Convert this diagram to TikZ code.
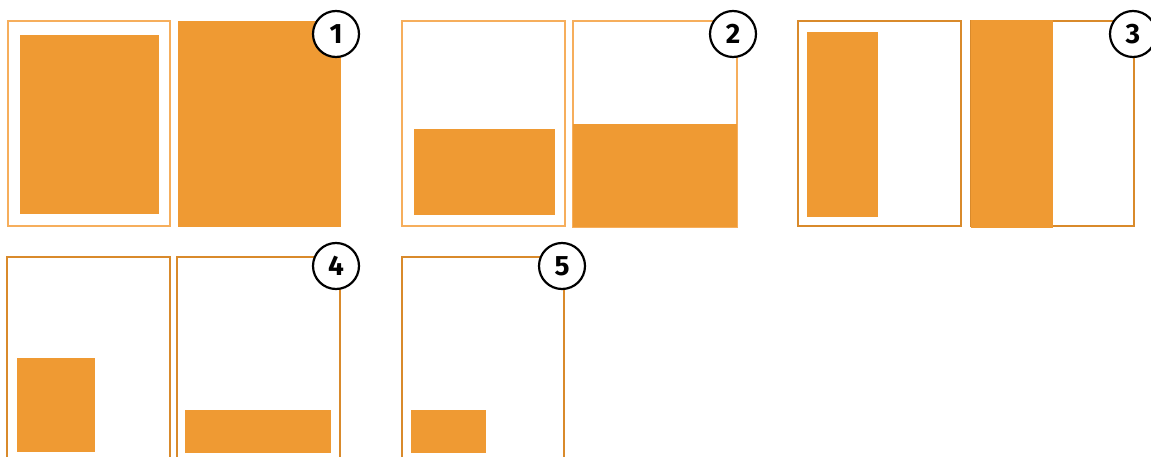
\documentclass[tikz,border=0pt]{standalone}
\usepackage{fontspec}
\setmainfont{Fira Sans}
\definecolor{ofill}{HTML}{EF9A33}
\definecolor{olight}{HTML}{F6AE5C}
\definecolor{odark}{HTML}{D98A2B}
\begin{document}
\begin{tikzpicture}[x=1pt,y=-1pt,
  fillbox/.style={fill=ofill,draw=none},
  lightframe/.style={draw=olight,line width=1.1pt},
  darkframe/.style={draw=odark,line width=1.1pt},
  badge/.style={circle,draw=black,fill=white,line width=2.2pt,minimum size=46pt,inner sep=0pt,font=\fontsize{28}{28}\selectfont\bfseries}]
\useasboundingbox (0,0) rectangle (1151,457);
\clip (0,0) rectangle (1151,457);
% group 1
\draw[lightframe] (8,21) rectangle (170,226);
\fill[ofill] (20,35) rectangle (159,214);
\fill[ofill] (178,21) rectangle (341,227);
\node[badge] (b1) at (336,34) {1};
% group 2
\draw[lightframe] (402,21) rectangle (565,226);
\fill[ofill] (414,129) rectangle (555,215);
\draw[lightframe] (573,21) rectangle (737,227);
\fill[ofill] (573,124) rectangle (737,227);
\node[badge] (b2) at (733,34) {2};
% group 3
\draw[darkframe] (798,21) rectangle (961,226);
\fill[ofill] (807,32) rectangle (878,217);
\draw[darkframe] (971,21) rectangle (1134,226);
\fill[ofill] (971,20) rectangle (1053,228);
\node[badge] (b3) at (1133,34) {3};
% group 4
\draw[darkframe] (7,470) -- (7,257) -- (170,257) -- (170,470);
\fill[ofill] (17,358) rectangle (95,452);
\draw[darkframe] (177,470) -- (177,257) -- (340,257) -- (340,470);
\fill[ofill] (185,410) rectangle (331,453);
\node[badge] (b4) at (336,266) {4};
% group 5
\draw[darkframe] (402,470) -- (402,257) -- (564,257) -- (564,470);
\fill[ofill] (411,410) rectangle (486,453);
\node[badge] (b5) at (562,266) {5};
\end{tikzpicture}
\end{document}
